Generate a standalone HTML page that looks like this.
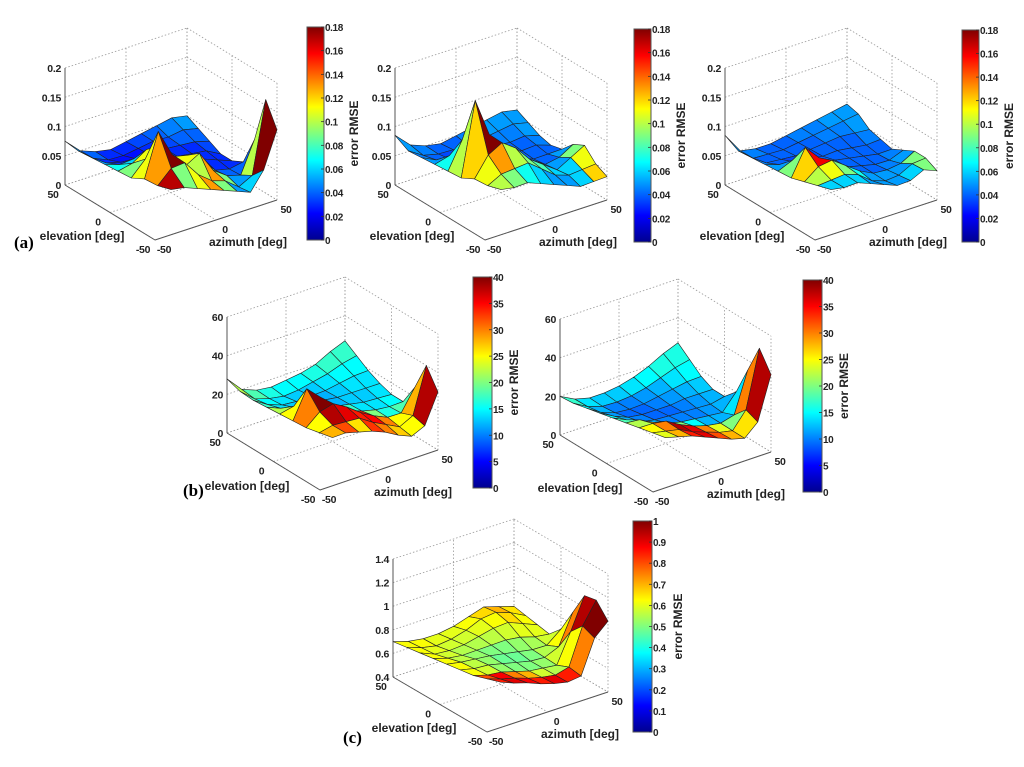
<!DOCTYPE html>
<html><head><meta charset="utf-8"><style>
html,body{margin:0;padding:0;background:#fff;}
svg{display:block;font-family:"Liberation Sans",Arial,sans-serif;}
</style></head><body>
<svg id="fig" width="1024" height="767" viewBox="0 0 1024 767">
<defs>
<linearGradient id="jet" x1="0" y1="1" x2="0" y2="0">
<stop offset="0" stop-color="#00008f"/><stop offset="0.125" stop-color="#0000ff"/>
<stop offset="0.375" stop-color="#00ffff"/><stop offset="0.625" stop-color="#ffff00"/>
<stop offset="0.875" stop-color="#ff0000"/><stop offset="1" stop-color="#800000"/>
</linearGradient>
</defs>
<text x="14" y="248" font-family="Liberation Serif,serif" font-size="17" font-weight="bold">(a)</text>
<text x="183" y="496" font-family="Liberation Serif,serif" font-size="17" font-weight="bold">(b)</text>
<text x="343" y="743" font-family="Liberation Serif,serif" font-size="17" font-weight="bold">(c)</text>
</svg>
<script>
// grid coordinates (degrees)
const elevations = [50,37.5,25,12.5,0,-12.5,-25,-37.5,-50];
const azimuths = [-50,-37.5,-25,-12.5,0,12.5,25,37.5,50];
const ticksA = [0,0.05,0.1,0.15,0.2];
const ticksB = [0,20,40,60];
const ticksC = [0.4,0.6,0.8,1,1.2,1.4];
const cbTicksA = [0,0.02,0.04,0.06,0.08,0.1,0.12,0.14,0.16,0.18];
const cbTicksB = [0,5,10,15,20,25,30,35,40];
const cbTicksC = [0,0.1,0.2,0.3,0.4,0.5,0.6,0.7,0.8,0.9,1];
const degTicks = [-50,0,50];

const a1Values = [
[0.075,0.05,0.04,0.035,0.04,0.045,0.05,0.055,0.05],
[0.06,0.04,0.03,0.03,0.035,0.04,0.04,0.045,0.04],
[0.05,0.035,0.03,0.03,0.03,0.035,0.035,0.035,0.03],
[0.04,0.035,0.04,0.035,0.03,0.03,0.03,0.03,0.02],
[0.03,0.04,0.06,0.05,0.04,0.03,0.03,0.025,0.02],
[0.02,0.05,0.07,0.05,0.05,0.04,0.02,0.02,0.03],
[0.02,0.10,0.06,0.04,0.06,0.03,0.02,0.02,0.08],
[0.01,0.04,0.05,0.03,0.02,0.02,0.01,0.03,0.16],
[0.005,0.01,0.01,0.01,0.01,0.01,0.01,0.05,0.12]];
const a1Colors = [
[0.05,0.04,0.03,0.03,0.035,0.04,0.045,0.05,0.05],
[0.045,0.03,0.025,0.025,0.03,0.035,0.04,0.04,0.04],
[0.05,0.03,0.025,0.025,0.03,0.03,0.03,0.035,0.035],
[0.07,0.06,0.05,0.035,0.03,0.03,0.03,0.03,0.03],
[0.09,0.11,0.12,0.10,0.06,0.04,0.03,0.03,0.04],
[0.11,0.13,0.13,0.11,0.12,0.08,0.04,0.04,0.06],
[0.13,0.18,0.12,0.10,0.13,0.09,0.05,0.10,0.12],
[0.17,0.09,0.11,0.13,0.09,0.05,0.06,0.18,0.18],
[0.17,0.09,0.11,0.13,0.09,0.05,0.06,0.18,0.18]];
const a2Values = [
[0.085,0.06,0.05,0.045,0.05,0.055,0.06,0.065,0.06],
[0.06,0.045,0.04,0.04,0.04,0.045,0.05,0.055,0.05],
[0.05,0.04,0.035,0.035,0.035,0.04,0.04,0.045,0.04],
[0.04,0.05,0.05,0.04,0.035,0.035,0.035,0.04,0.035],
[0.03,0.08,0.07,0.05,0.04,0.035,0.03,0.035,0.04],
[0.02,0.15,0.09,0.06,0.05,0.04,0.03,0.04,0.06],
[0.02,0.06,0.08,0.07,0.05,0.04,0.03,0.05,0.07],
[0.01,0.03,0.04,0.05,0.04,0.03,0.03,0.04,0.05],
[0.005,0.01,0.02,0.02,0.02,0.02,0.02,0.03,0.04]];
const a2Colors = [
[0.05,0.045,0.04,0.04,0.045,0.05,0.05,0.05,0.05],
[0.045,0.04,0.035,0.035,0.04,0.045,0.045,0.05,0.05],
[0.05,0.04,0.035,0.035,0.035,0.04,0.04,0.045,0.045],
[0.07,0.12,0.09,0.05,0.04,0.04,0.04,0.04,0.04],
[0.10,0.17,0.16,0.08,0.05,0.04,0.04,0.05,0.05],
[0.12,0.18,0.14,0.12,0.06,0.05,0.05,0.09,0.10],
[0.11,0.13,0.10,0.09,0.08,0.06,0.06,0.11,0.10],
[0.10,0.09,0.07,0.06,0.05,0.05,0.06,0.12,0.10],
[0.10,0.09,0.07,0.06,0.05,0.05,0.06,0.12,0.10]];
const a3Values = [
[0.085,0.05,0.045,0.045,0.05,0.055,0.06,0.065,0.07],
[0.06,0.04,0.04,0.04,0.045,0.05,0.055,0.06,0.065],
[0.05,0.035,0.035,0.035,0.04,0.045,0.05,0.05,0.05],
[0.04,0.035,0.035,0.035,0.035,0.04,0.04,0.04,0.045],
[0.03,0.045,0.04,0.035,0.035,0.035,0.035,0.035,0.04],
[0.02,0.07,0.05,0.035,0.03,0.03,0.03,0.035,0.05],
[0.015,0.04,0.05,0.04,0.03,0.025,0.03,0.04,0.06],
[0.01,0.02,0.03,0.03,0.02,0.02,0.03,0.05,0.06],
[0.005,0.01,0.02,0.02,0.02,0.02,0.03,0.05,0.05]];
const a3Colors = [
[0.05,0.045,0.04,0.04,0.045,0.045,0.05,0.05,0.05],
[0.045,0.04,0.04,0.04,0.04,0.045,0.045,0.05,0.05],
[0.045,0.04,0.035,0.035,0.04,0.04,0.04,0.045,0.045],
[0.05,0.04,0.04,0.04,0.04,0.04,0.04,0.04,0.045],
[0.09,0.14,0.06,0.04,0.04,0.04,0.04,0.045,0.05],
[0.12,0.16,0.10,0.06,0.04,0.04,0.045,0.05,0.09],
[0.10,0.11,0.09,0.07,0.05,0.05,0.05,0.09,0.09],
[0.06,0.06,0.06,0.05,0.05,0.05,0.06,0.09,0.09],
[0.06,0.06,0.06,0.05,0.05,0.05,0.06,0.09,0.09]];
const b1Values = [
[28,20,17,16,17,18,20,24,27],
[22,16,14,13,14,16,18,21,23],
[18,14,12,12,13,14,16,18,19],
[15,13,12,12,13,13,14,15,16],
[12,15,14,13,12,12,12,13,14],
[9,25,20,15,12,11,11,12,14],
[6,14,18,16,13,11,10,12,25],
[4,8,10,12,10,9,8,14,40],
[2,5,6,7,7,6,6,12,30]];
const b1Colors = [
[22,18,16,15,15,16,17,17,17],
[18,15,14,13,13,14,15,15,15],
[17,14,13,12,12,13,14,14,14],
[22,20,15,13,12,13,13,14,14],
[25,30,35,30,17,14,14,15,20],
[30,40,38,36,34,20,16,18,25],
[25,38,36,34,35,30,25,28,40],
[28,32,26,33,30,27,25,38,40],
[28,32,26,33,30,27,25,38,40]];
const b2Values = [
[20,16,14,14,15,17,20,24,27],
[17,13,11,11,12,14,17,20,22],
[15,11,9,9,10,12,14,16,17],
[13,10,8,8,9,10,12,13,14],
[11,9,7,7,8,9,10,11,14],
[9,10,8,7,7,8,9,10,20],
[7,9,10,8,7,7,8,12,35],
[5,6,7,6,6,6,7,18,50],
[3,4,5,5,5,5,6,15,40]];
const b2Colors = [
[17,14,13,13,14,15,16,16,16],
[15,12,10,10,11,12,14,15,15],
[14,11,9,9,10,11,12,13,14],
[15,12,10,9,9,10,11,12,13],
[18,15,12,10,10,10,11,12,20],
[22,28,32,20,15,12,12,14,30],
[25,30,38,36,30,24,20,30,40],
[24,28,34,36,32,28,26,38,40],
[24,28,34,36,32,28,26,38,40]];
const cValues = [
[0.70,0.66,0.64,0.64,0.66,0.70,0.74,0.70,0.66],
[0.66,0.62,0.60,0.62,0.66,0.72,0.74,0.70,0.64],
[0.62,0.58,0.58,0.60,0.64,0.68,0.70,0.66,0.62],
[0.58,0.56,0.56,0.58,0.60,0.62,0.62,0.60,0.60],
[0.54,0.54,0.55,0.56,0.56,0.56,0.56,0.58,0.70],
[0.50,0.50,0.52,0.52,0.52,0.52,0.54,0.62,0.90],
[0.46,0.46,0.48,0.48,0.48,0.50,0.52,0.80,1.10],
[0.44,0.44,0.45,0.45,0.46,0.48,0.55,0.90,1.12],
[0.42,0.42,0.43,0.43,0.44,0.46,0.52,0.85,1.00]];
const cColors = [
[0.62,0.62,0.60,0.60,0.62,0.66,0.70,0.65,0.62],
[0.62,0.60,0.58,0.58,0.60,0.62,0.66,0.62,0.60],
[0.62,0.58,0.55,0.55,0.56,0.58,0.60,0.60,0.58],
[0.62,0.56,0.52,0.50,0.50,0.52,0.54,0.58,0.60],
[0.62,0.56,0.52,0.48,0.48,0.50,0.55,0.62,0.85],
[0.62,0.58,0.52,0.50,0.50,0.52,0.58,0.75,1.0],
[0.80,0.88,0.75,0.70,0.58,0.55,0.62,0.95,1.0],
[0.85,0.90,0.88,0.85,0.90,0.85,0.75,1.0,1.0],
[0.85,0.90,0.88,0.85,0.90,0.85,0.75,1.0,1.0]];

const NS='http://www.w3.org/2000/svg';
const svg=document.getElementById('fig');
function el(tag,attrs,parent){const e=document.createElementNS(NS,tag);for(const k in attrs)e.setAttribute(k,attrs[k]);(parent||svg).appendChild(e);return e;}
function jet(t){t=Math.max(0,Math.min(1,t));
 const f=x=>Math.max(0,Math.min(1,x));
 const r=f(Math.min(4*t-1.5,-4*t+4.5)),g=f(Math.min(4*t-0.5,-4*t+3.5)),b=f(Math.min(4*t+0.5,-4*t+2.5));
 return `rgb(${Math.round(r*255)},${Math.round(g*255)},${Math.round(b*255)})`;}

function plot(cfg){
 const g=el('g',{});
 
 
 const P=(e,a,z)=>{const fe=(e+50)/100,fa=(a+50)/100,fz=(z-cfg.zmin)/(cfg.zmax-cfg.zmin);
  return [cfg.B[0]+fe*cfg.ev[0]+fa*cfg.av[0], cfg.B[1]+fe*cfg.ev[1]+fa*cfg.av[1]-fz*cfg.zh];};
 const S=(e,a,z)=>{const u=(a+50)/100,v=(50-e)/100;
  const fe=(1-v)+0.5*v*(1-u), fa=u+0.5*v*(1-u);
  return P(fe*100-50,fa*100-50,z);};
 const ln=(p,q,st)=>el('line',Object.assign({x1:p[0],y1:p[1],x2:q[0],y2:q[1]},st),g);
 const dot={stroke:'#999','stroke-width':0.8,'stroke-dasharray':'1.5,2'};
 const zt=cfg.zt, zlo=cfg.zmin, zhi=cfg.zmax;
 zt.forEach(z=>{ln(P(50,-50,z),P(50,50,z),dot);ln(P(50,50,z),P(-50,50,z),dot);});
 degTicks.forEach(v=>{
  ln(P(50,v,zlo),P(50,v,zhi),dot);ln(P(v,50,zlo),P(v,50,zhi),dot);
  ln(P(50,v,zlo),P(-50,v,zlo),dot);ln(P(v,-50,zlo),P(v,50,zlo),dot);
 });
 const ax={stroke:'#555','stroke-width':1};
 ln(P(50,-50,zlo),P(50,-50,zhi),ax);ln(P(50,-50,zlo),P(-50,-50,zlo),ax);ln(P(-50,-50,zlo),P(-50,50,zlo),ax);
 const fs={'font-size':10.5,'font-weight':'bold',fill:'#222','letter-spacing':'-0.3'};
 const fsc={'font-size':10,'font-weight':'bold',fill:'#222','letter-spacing':'-0.4'};
 zt.forEach(z=>{const p=P(50,-50,z);const t=el('text',Object.assign({x:p[0]-4,y:p[1]+4,'text-anchor':'end'},fs),g);t.textContent=z;
  });
 degTicks.forEach(v=>{const p=P(v,-50,zlo);const t=el('text',Object.assign({x:p[0]-12,y:p[1]+13,'text-anchor':'middle'},fs),g);t.textContent=v;
  
  const q=P(-50,v,zlo);const u=el('text',Object.assign({x:q[0]+9,y:q[1]+13,'text-anchor':'middle'},fs),g);u.textContent=v;
  });
 const B=P(-50,-50,zlo);
 let t=el('text',{x:B[0]-73,y:B[1]+0,'font-size':12,'font-weight':'bold','text-anchor':'middle',fill:'#222'},g);t.textContent='elevation [deg]';
 
 t=el('text',{x:B[0]+93,y:B[1]+6,'font-size':12,'font-weight':'bold','text-anchor':'middle',fill:'#222'},g);t.textContent='azimuth [deg]';
 
 const Z=cfg.z, C=cfg.c, n=elevations.length, cells=[];
 for(let i=0;i<n-1;i++)for(let j=0;j<n-1;j++){
  const ce=(elevations[i]+elevations[i+1])/2, ca=(azimuths[j]+azimuths[j+1])/2;
  cells.push([i,j,S(ce,ca,zlo)[1]]);}
 cells.sort((p,q)=>p[2]-q[2]);
 cells.forEach(([i,j])=>{
  const pts=[[i,j],[i,j+1],[i+1,j+1],[i+1,j]].map(([a,b])=>S(elevations[a],azimuths[b],Math.max(zlo,Z[a][b])));
  const poly=el('polygon',{points:pts.map(p=>p.join(',')).join(' '),fill:jet(C[i][j]/cfg.cmax),stroke:'#222','stroke-width':0.6,'stroke-linejoin':'round'},g);
  
  
 });
 const [cx,cy,cw,ch]=cfg.cb;
 const r=el('rect',{x:cx,y:cy,width:cw,height:ch,fill:'url(#jet)',stroke:'#555','stroke-width':1},g);
 
 cfg.ct.forEach(v=>{const y=cy+ch-v/cfg.cmax*ch;
  el('line',{x1:cx+cw-3,y1:y,x2:cx+cw,y2:y,stroke:'#333','stroke-width':0.8},g);
  const tt=el('text',Object.assign({x:cx+cw+1,y:y+4},fsc),g);tt.textContent=v;
  });
 const lx=cx+cw+cfg.lblOff, ly=cy+ch/2;
 t=el('text',{x:lx,y:ly,'font-size':12,'font-weight':'bold','text-anchor':'middle',fill:'#222',transform:`rotate(-90 ${lx} ${ly})`},g);t.textContent='error RMSE';
 
}
const aBase={zmin:0,zmax:0.2,zt:ticksA,ev:[-90,-55],av:[122,-40],zh:117,cmax:0.18,ct:cbTicksA,lblOff:34};
plot(Object.assign({},aBase,{name:'plot-a1',B:[155,240],z:a1Values,c:a1Colors,cb:[307,27,17,213]}));
plot(Object.assign({},aBase,{name:'plot-a2',B:[485,240],z:a2Values,c:a2Colors,cb:[634,29,17,213]}));
plot(Object.assign({},aBase,{name:'plot-a3',B:[815,240],z:a3Values,c:a3Colors,cb:[962,30,17,212]}));
const bBase={zmin:0,zmax:60,zt:ticksB,ev:[-93,-57],av:[118,-40],zh:116,cmax:40,ct:cbTicksB,lblOff:26};
plot(Object.assign({},bBase,{name:'plot-b1',B:[320,490],z:b1Values,c:b1Colors,cb:[473,277,19,211]}));
plot(Object.assign({},bBase,{name:'plot-b2',B:[653,492],z:b2Values,c:b2Colors,cb:[803,280,19,212]}));
plot({name:'plot-c',zmin:0.4,zmax:1.4,zt:ticksC,ev:[-94,-55],av:[121,-40],zh:118,B:[487,732],z:cValues,c:cColors,cmax:1,ct:cbTicksC,cb:[633,521,19,211],lblOff:30});
</script>
</body></html>
